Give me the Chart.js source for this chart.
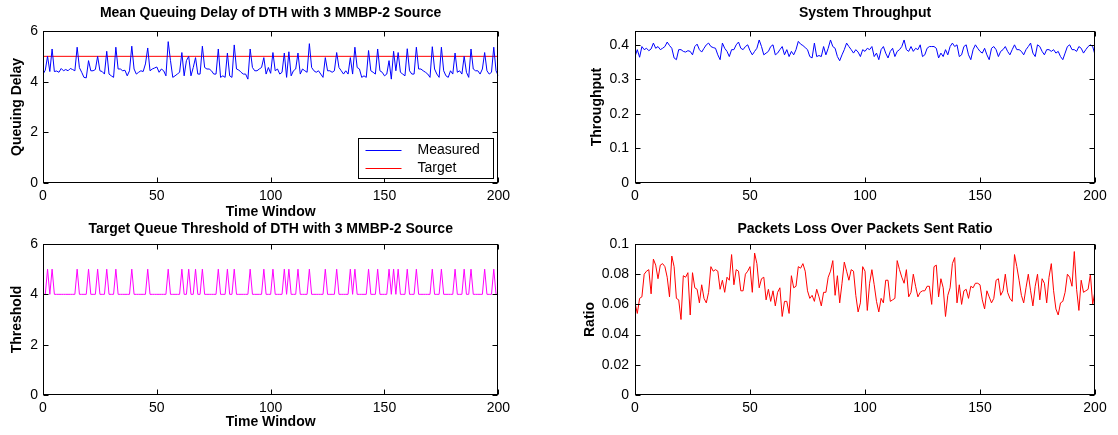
<!DOCTYPE html>
<html>
<head>
<meta charset="utf-8">
<script src="https://cdn.jsdelivr.net/npm/chart.js"></script>
<style>
  body { margin: 0; background: #fff; width: 1118px; height: 435px; position: relative; overflow: hidden; }
  canvas { position: absolute; }
</style>
</head>
<body>
<canvas id="delayChart" width="515" height="222" style="left:0;top:0"></canvas>
<canvas id="thresholdChart" width="515" height="220" style="left:0;top:215px"></canvas>
<canvas id="throughputChart" width="558" height="222" style="left:560px;top:0"></canvas>
<canvas id="lossChart" width="558" height="220" style="left:560px;top:215px"></canvas>
<script>
// time window index 0..200
const timeWindow = Array.from({ length: 201 }, (_, i) => i);

// mean queuing delay (measured)
const measuredDelay = [
  4.30, 4.45, 5.00, 4.40, 5.29, 4.40, 4.42, 4.37, 4.52, 4.43,
  4.48, 4.43, 4.52, 4.48, 4.43, 5.36, 4.55, 4.37, 4.17, 4.15,
  4.83, 4.43, 4.43, 4.48, 5.00, 4.43, 4.40, 4.30, 5.20, 4.30,
  4.23, 4.17, 5.36, 4.50, 4.50, 4.43, 4.45, 4.23, 4.43, 5.40,
  4.50, 4.30, 4.37, 4.43, 4.40, 4.70, 5.33, 4.43, 4.50, 4.54,
  4.58, 4.37, 4.50, 4.43, 4.23, 5.58, 4.83, 4.17, 4.23, 4.30,
  4.37, 5.15, 4.23, 4.83, 5.00, 4.23, 4.56, 4.95, 4.30, 4.30,
  5.40, 4.56, 4.50, 4.50, 4.43, 4.30, 4.30, 5.29, 4.17, 4.23,
  4.17, 5.13, 4.23, 4.17, 5.45, 4.50, 4.46, 4.37, 4.30, 4.30,
  4.10, 5.29, 4.56, 4.43, 4.43, 4.50, 4.56, 4.95, 4.30, 4.56,
  4.33, 5.15, 4.43, 4.50, 4.30, 4.37, 5.13, 4.17, 5.18, 4.23,
  4.43, 4.50, 5.13, 4.30, 4.50, 4.43, 4.37, 5.50, 4.56, 4.43,
  4.37, 4.43, 4.30, 4.17, 4.95, 4.43, 4.43, 4.37, 4.43, 5.15,
  4.56, 4.43, 4.30, 4.43, 4.30, 4.95, 4.30, 5.36, 4.56, 4.50,
  4.17, 4.23, 4.17, 5.23, 4.43, 4.37, 4.30, 5.29, 4.43, 4.37,
  4.23, 4.30, 4.83, 4.10, 5.20, 4.43, 5.15, 4.37, 4.30, 4.23,
  5.30, 4.43, 4.30, 4.30, 5.36, 4.50, 4.50, 4.43, 4.37, 4.30,
  4.17, 5.38, 4.50, 4.30, 4.17, 5.36, 4.43, 4.23, 4.17, 4.43,
  4.30, 5.13, 4.37, 4.43, 4.30, 5.00, 4.37, 4.17, 5.29, 4.50,
  4.43, 4.43, 4.30, 4.50, 5.15, 4.43, 4.30, 4.37, 5.36, 4.43,
  4.23
];

// target delay line
const targetX = [0, 200];
const targetDelay = [5, 5];

// target queue threshold
const threshold = [
  4,4,5,4,5,4,4,4,4,4, 4,4,4,4,4,5,4,4,4,4,
  5,4,4,4,5,4,4,4,5,4, 4,4,5,4,4,4,4,4,4,5,
  4,4,4,4,4,4,5,4,4,4, 4,4,4,4,4,5,4,4,4,4,
  4,5,4,4,5,4,4,5,4,4, 5,4,4,4,4,4,4,5,4,4,
  4,5,4,4,5,4,4,4,4,4, 4,5,4,4,4,4,4,5,4,4,
  4,5,4,4,4,4,5,4,5,4, 4,4,5,4,4,4,4,5,4,4,
  4,4,4,4,5,4,4,4,4,5, 4,4,4,4,4,5,4,5,4,4,
  4,4,4,5,4,4,4,5,4,4, 4,4,5,4,5,4,5,4,4,4,
  5,4,4,4,5,4,4,4,4,4, 4,5,4,4,4,5,4,4,4,4,
  4,5,4,4,4,5,4,4,5,4, 4,4,4,4,5,4,4,4,5,4,
  4
];

// system throughput
const throughput = [
  0.366, 0.386, 0.364, 0.395, 0.386, 0.390, 0.383, 0.388, 0.405, 0.390,
  0.395, 0.386, 0.390, 0.395, 0.408, 0.398, 0.390, 0.362, 0.357, 0.386,
  0.386, 0.381, 0.379, 0.383, 0.381, 0.371, 0.395, 0.402, 0.386, 0.379,
  0.390, 0.400, 0.405, 0.395, 0.392, 0.390, 0.371, 0.357, 0.405, 0.390,
  0.381, 0.366, 0.386, 0.386, 0.400, 0.408, 0.390, 0.386, 0.395, 0.400,
  0.383, 0.371, 0.381, 0.390, 0.414, 0.395, 0.371, 0.376, 0.381, 0.395,
  0.400, 0.371, 0.376, 0.386, 0.395, 0.371, 0.386, 0.366, 0.381, 0.371,
  0.386, 0.410, 0.402, 0.398, 0.392, 0.386, 0.366, 0.362, 0.405, 0.366,
  0.369, 0.366, 0.395, 0.371, 0.390, 0.414, 0.395, 0.390, 0.366, 0.354,
  0.371, 0.386, 0.405, 0.395, 0.386, 0.376, 0.386, 0.379, 0.366, 0.386,
  0.381, 0.390, 0.386, 0.395, 0.366, 0.376, 0.357, 0.386, 0.395, 0.376,
  0.362, 0.381, 0.390, 0.366, 0.381, 0.386, 0.395, 0.414, 0.386, 0.381,
  0.395, 0.381, 0.390, 0.386, 0.400, 0.366, 0.371, 0.390, 0.395, 0.395,
  0.395, 0.390, 0.362, 0.376, 0.366, 0.386, 0.371, 0.395, 0.405, 0.395,
  0.400, 0.366, 0.371, 0.395, 0.400, 0.371, 0.357, 0.386, 0.400, 0.390,
  0.381, 0.376, 0.390, 0.371, 0.357, 0.390, 0.395, 0.386, 0.366, 0.381,
  0.386, 0.395, 0.381, 0.371, 0.386, 0.400, 0.386, 0.386, 0.381, 0.371,
  0.386, 0.395, 0.405, 0.376, 0.366, 0.400, 0.395, 0.381, 0.371, 0.386,
  0.386, 0.381, 0.386, 0.376, 0.381, 0.366, 0.357, 0.376, 0.395, 0.400,
  0.386, 0.386, 0.381, 0.395, 0.390, 0.376, 0.386, 0.395, 0.400, 0.395,
  0.371
];

// packets loss over packets sent ratio
const lossRatio = [
  0.061, 0.054, 0.064, 0.065, 0.080, 0.082, 0.083, 0.067, 0.090, 0.086,
  0.077, 0.086, 0.087, 0.085, 0.078, 0.065, 0.092, 0.085, 0.064, 0.063,
  0.050, 0.079, 0.078, 0.081, 0.053, 0.081, 0.071, 0.070, 0.061, 0.073,
  0.064, 0.061, 0.068, 0.085, 0.082, 0.083, 0.082, 0.070, 0.076, 0.068,
  0.078, 0.076, 0.093, 0.073, 0.083, 0.082, 0.069, 0.069, 0.080, 0.082,
  0.085, 0.068, 0.094, 0.087, 0.071, 0.077, 0.078, 0.063, 0.070, 0.062,
  0.069, 0.059, 0.068, 0.071, 0.052, 0.062, 0.062, 0.054, 0.079, 0.071,
  0.072, 0.085, 0.084, 0.087, 0.082, 0.069, 0.064, 0.066, 0.062, 0.070,
  0.065, 0.059, 0.068, 0.068, 0.078, 0.082, 0.089, 0.066, 0.079, 0.061,
  0.074, 0.088, 0.082, 0.076, 0.083, 0.082, 0.066, 0.055, 0.061, 0.085,
  0.082, 0.056, 0.074, 0.083, 0.073, 0.062, 0.055, 0.064, 0.061, 0.076,
  0.076, 0.062, 0.063, 0.064, 0.089, 0.083, 0.078, 0.074, 0.083, 0.065,
  0.068, 0.080, 0.072, 0.065, 0.068, 0.069, 0.069, 0.072, 0.072, 0.060,
  0.085, 0.086, 0.065, 0.077, 0.071, 0.052, 0.066, 0.071, 0.087, 0.091,
  0.061, 0.073, 0.060, 0.069, 0.070, 0.064, 0.072, 0.071, 0.074, 0.074,
  0.073, 0.063, 0.057, 0.069, 0.065, 0.061, 0.064, 0.076, 0.077, 0.066,
  0.069, 0.080, 0.068, 0.064, 0.062, 0.093, 0.085, 0.076, 0.066, 0.061,
  0.071, 0.080, 0.069, 0.059, 0.072, 0.080, 0.063, 0.077, 0.074, 0.061,
  0.078, 0.087, 0.069, 0.057, 0.053, 0.061, 0.062, 0.068, 0.080, 0.078,
  0.072, 0.095, 0.070, 0.056, 0.076, 0.068, 0.069, 0.070, 0.080, 0.060,
  0.069
];

Chart.defaults.font.family = "'Liberation Sans', Arial, Helvetica, sans-serif";
Chart.defaults.font.size = 14;
Chart.defaults.color = '#000';

const toPoints = (xs, ys) => ys.map((y, i) => ({ x: xs[i], y: y }));
const plainNumber = v => String(Number(Number(v).toFixed(4)));

// matlab style box with inward ticks
const framePlugin = {
  id: 'frame',
  afterDraw(chart) {
    const { ctx, chartArea: a, scales } = chart;
    const L = Math.round(a.left) + 0.5, R = Math.round(a.right) - 0.5;
    const T = Math.round(a.top) + 0.5, B = Math.round(a.bottom) - 0.5;
    ctx.save();
    ctx.strokeStyle = '#000';
    ctx.lineWidth = 1;
    ctx.beginPath();
    scales.x.ticks.forEach(t => {
      const px = Math.round(scales.x.getPixelForValue(t.value)) + 0.5;
      ctx.moveTo(px, B); ctx.lineTo(px, B - 5);
      ctx.moveTo(px, T); ctx.lineTo(px, T + 5);
    });
    scales.y.ticks.forEach(t => {
      const py = Math.round(scales.y.getPixelForValue(t.value)) + 0.5;
      ctx.moveTo(L, py); ctx.lineTo(L + 5, py);
      ctx.moveTo(R, py); ctx.lineTo(R - 5, py);
    });
    ctx.stroke();
    ctx.strokeRect(L, T, R - L, B - T);
    ctx.restore();
  }
};

// legend box in lower right corner
const boxLegend = {
  id: 'boxLegend',
  afterDraw(chart) {
    const { ctx, chartArea: a } = chart;
    const w = 135, h = 40;
    const x = Math.round(a.right - 5 - w) + 0.5, y = Math.round(a.bottom - 5 - h) + 0.5;
    ctx.save();
    ctx.fillStyle = '#fff';
    ctx.fillRect(x, y, w, h);
    ctx.strokeStyle = '#000';
    ctx.lineWidth = 1;
    ctx.strokeRect(x, y, w, h);
    ctx.font = "14px 'Liberation Sans', Arial, sans-serif";
    ctx.textBaseline = 'middle';
    chart.data.datasets.forEach((ds, i) => {
      const cy = Math.round(y + 11 + i * 18) + 0.5;
      ctx.strokeStyle = ds.borderColor;
      ctx.beginPath();
      ctx.moveTo(x + 7, cy);
      ctx.lineTo(x + 43, cy);
      ctx.stroke();
      ctx.fillStyle = '#000';
      ctx.fillText(ds.label, x + 59, cy);
    });
    ctx.restore();
  }
};

function makePanel(id, datasets, o) {
  return new Chart(document.getElementById(id), {
    type: 'line',
    data: { datasets: datasets },
    options: {
      responsive: false,
      animation: false,
      layout: { padding: { right: o.padRight } },
      elements: { point: { radius: 0 }, line: { borderWidth: 1, tension: 0 } },
      plugins: {
        legend: { display: false },
        tooltip: { enabled: false },
        title: {
          display: true,
          text: o.title,
          fullSize: false,
          color: '#000',
          font: { size: 14, weight: 'bold' },
          padding: { top: o.titleTop, bottom: o.titleBottom }
        }
      },
      scales: {
        x: {
          type: 'linear',
          min: 0,
          max: 200,
          afterFit: s => { s.height = o.xHeight; },
          grid: { display: false, drawTicks: false },
          border: { display: false },
          ticks: { stepSize: 50, padding: 5, maxRotation: 0, color: '#000' },
          title: {
            display: !!o.xTitle,
            text: o.xTitle || '',
            color: '#000',
            font: { size: 14, weight: 'bold' },
            padding: { top: 0, bottom: o.xTitleBottom || 0 }
          }
        },
        y: {
          min: o.yMin,
          max: o.yMax,
          afterFit: s => { s.width = o.yWidth; },
          grid: { display: false, drawTicks: false },
          border: { display: false },
          ticks: { stepSize: o.yStep, includeBounds: false, padding: o.yTickPad, color: '#000', callback: plainNumber },
          title: {
            display: true,
            text: o.yTitle,
            color: '#000',
            font: { size: 14, weight: 'bold' },
            padding: { top: o.yTitlePad, bottom: 0 }
          }
        }
      }
    },
    plugins: o.legend ? [framePlugin, boxLegend] : [framePlugin]
  });
}

makePanel('delayChart', [
  { label: 'Measured', data: toPoints(timeWindow, measuredDelay), borderColor: '#0000ff', fill: false },
  { label: 'Target', data: toPoints(targetX, targetDelay), borderColor: '#ff0000', fill: false }
], {
  title: 'Mean Queuing Delay of DTH with 3 MMBP-2 Source',
  titleTop: 4.6, titleBottom: 9.6,
  xTitle: 'Time Window', xTitleBottom: 1.6, xHeight: 39,
  yTitle: 'Queuing Delay', yTitlePad: 8.6, yWidth: 43, yTickPad: 5,
  yMin: 0, yMax: 6, yStep: 2, padRight: 12, legend: true
});

makePanel('thresholdChart', [
  { label: 'Threshold', data: toPoints(timeWindow, threshold), borderColor: '#ff00ff', fill: false }
], {
  title: 'Target Queue Threshold of DTH with 3 MMBP-2 Source',
  titleTop: 5.6, titleBottom: 6.6,
  xTitle: 'Time Window', xTitleBottom: 4.6, xHeight: 40,
  yTitle: 'Threshold', yTitlePad: 8.6, yWidth: 43, yTickPad: 5,
  yMin: 0, yMax: 6, yStep: 2, padRight: 12
});

makePanel('throughputChart', [
  { label: 'Throughput', data: toPoints(timeWindow, throughput), borderColor: '#0000ff', fill: false }
], {
  title: 'System Throughput',
  titleTop: 4.6, titleBottom: 9.6,
  xHeight: 39,
  yTitle: 'Throughput', yTitlePad: 28.6, yWidth: 75, yTickPad: 6,
  yMin: 0, yMax: 0.44, yStep: 0.1, padRight: 23
});

makePanel('lossChart', [
  { label: 'Ratio', data: toPoints(timeWindow, lossRatio), borderColor: '#ff0000', fill: false }
], {
  title: 'Packets Loss Over Packets Sent Ratio',
  titleTop: 5.6, titleBottom: 6.6,
  xHeight: 40,
  yTitle: 'Ratio', yTitlePad: 21.6, yWidth: 75, yTickPad: 6,
  yMin: 0, yMax: 0.1, yStep: 0.02, padRight: 23
});
</script>
</body>
</html>
